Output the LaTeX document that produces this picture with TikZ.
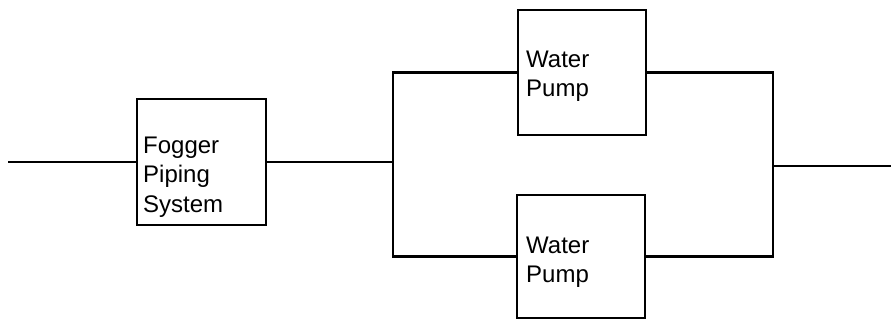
\documentclass[tikz,border=0pt]{standalone}
\usepackage{fontspec}
\setmainfont{Liberation Sans}
\begin{document}
\begin{tikzpicture}[x=1pt,y=-1pt,
  wire/.style={line width=2.2pt,line join=miter},
  blockbox/.style={draw,line width=2.2pt,rectangle,inner sep=0pt},
  blocktext/.style={anchor=base west,inner sep=0pt,text width=100pt,align=left,font=\fontsize{24}{29.5}\selectfont}]
\useasboundingbox (0,0) rectangle (891,322);
% blocks
\node[blockbox,minimum width=129pt,minimum height=126pt] (fog) at (201.5,162) {};
\node[blockbox,minimum width=128pt,minimum height=125pt] (p1) at (582,72.5) {};
\node[blockbox,minimum width=128pt,minimum height=123pt] (p2) at (581,256.5) {};
% texts
\node[blocktext] (fogt) at (143,153) {Fogger\\Piping\\System};
\node[blocktext] (p1t) at (526,67) {Water\\Pump};
\node[blocktext] (p2t) at (526,253) {Water\\Pump};
% junction coordinates
\coordinate (in) at (8,162);
\coordinate (s) at (393,162);
\coordinate (m) at (773,166);
\coordinate (out) at (891,166);
% connectors
\draw[wire] (in) -- (fog.west);
\draw[wire] (fog.east) -- (s);
\draw[wire] (s) |- (p1.west);
\draw[wire] (s) |- (p2.west);
\draw[wire] (p1.east) -| (m);
\draw[wire] (p2.east) -| (m);
\draw[wire] (m) -- (out);
\end{tikzpicture}
\end{document}
